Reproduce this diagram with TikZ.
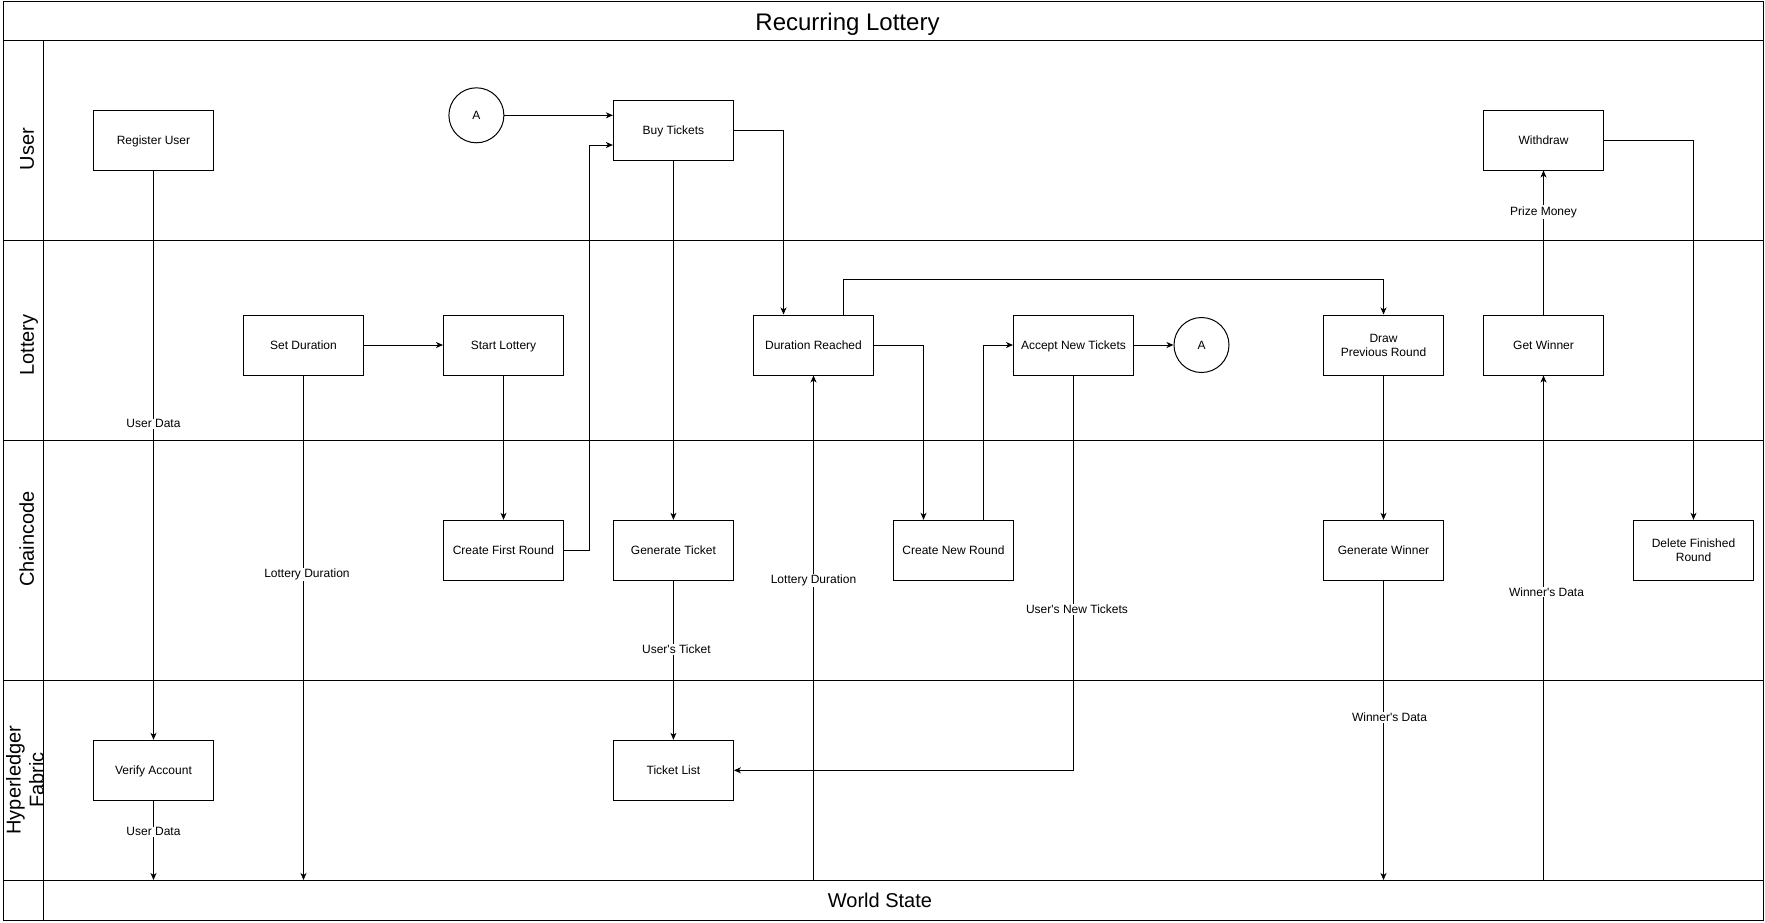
\documentclass[tikz,border=0pt]{standalone}
\usepackage{fontspec}
\setmainfont{Liberation Sans}
\usepackage{tikz}
\usetikzlibrary{positioning,arrows.meta}
\tikzstyle{proc}=[draw, minimum height=60pt, minimum width=120pt, align=center, font=\fontsize{12pt}{14pt}\selectfont]
\tikzstyle{proc1}=[proc, text height=8.6pt, text depth=0pt]
\tikzstyle{conn}=[draw, circle, minimum size=55pt, inner sep=0pt, font=\fontsize{12pt}{14pt}\selectfont]
\tikzstyle{lbl}=[fill=white, inner sep=1pt, font=\fontsize{12pt}{14pt}\selectfont]
\tikzstyle{lane}=[rotate=90, align=center, font=\fontsize{20pt}{23pt}\selectfont]

\begin{document}
\begin{tikzpicture}[x=1pt,y=-1pt,line width=1pt,node distance=200pt,>={Stealth[length=7pt,width=6pt,inset=2pt]}]
\useasboundingbox (0,0) rectangle (1765,922);
% pool and lanes
\draw (3,1) rectangle (1763,920);
\foreach \y in {40,240,440,680,880}
  \draw (3,\y) -- (1763,\y);
\draw (43,40) -- (43,920);
\coordinate (wstop) at (43,880);

\node[anchor=base, font=\fontsize{24pt}{28pt}\selectfont] at (847.5,30) (title) {Recurring Lottery};
\node[anchor=base, font=\fontsize{20pt}{24pt}\selectfont] at (880,907) (ws) {World State};
\node[lane, anchor=base] at (34,149) (lnuser) {User};
\node[lane, anchor=base] at (34,345) (lnlot) {Lottery};
\node[lane, anchor=base] at (34,539) (lnchain) {Chaincode};
\node[lane] at (25,780) (lnfab) {Hyperledger\\Fabric};

\node[proc1] at (153.5,140) (reg) {Register User};
\node[proc1, below of = reg, node distance = 630.3pt] (verify) {Verify Account};
\node[proc1] at (303.5,345) (setdur) {Set Duration};
\node[proc1, right of = setdur] (start) {Start Lottery};
\node[proc1, below of = start, node distance = 205.3pt] (first) {Create First Round};
\node[conn] at (476.4,115.3) (conA) {A};
\node[proc1] at (673.4,130) (buy) {Buy Tickets};
\node[proc1, below of = buy, node distance = 420.3pt] (gen) {Generate Ticket};
\node[proc1, below of = gen, node distance = 220pt] (tlist) {Ticket List};
\node[proc1, right of = start, node distance = 310pt] (durr) {Duration Reached};
\node[proc1, right of = first, node distance = 450pt] (newr) {Create New Round};
\node[proc1, right of = durr, node distance = 260pt] (accept) {Accept New Tickets};
\node[conn, right of = accept, node distance = 128pt] (conA2) {A};
\node[proc, right of = accept, node distance = 310pt] (drawr) {Draw\\Previous Round};
\node[proc1, below of = drawr, node distance = 205.3pt] (genw) {Generate Winner};
\node[proc1, right of = drawr, node distance = 160pt] (getw) {Get Winner};
\node[proc1, above of = getw, node distance = 205pt] (withdraw) {Withdraw};
\node[proc, right of = genw, node distance = 310pt] (delr) {Delete Finished\\Round};

\draw[->] (reg) -- node[lbl, pos=0.445] (ud1) {User Data} (verify);
\draw[->] (verify) -- node[lbl, pos=0.39] (ud2) {User Data} (verify |- wstop);
\draw[->] (setdur) -- node[lbl, pos=0.395, xshift=3.5pt] (ld1) {Lottery Duration} (setdur |- wstop);
\draw[->] (setdur) -- (start);
\draw[->] (start) -- (first);
\draw[->] (first.east) -- ++(25,0) |- ([yshift=-15pt]buy.west);
\draw[->] (conA) -- (conA -| buy.west);
\draw[->] (buy) -| ([xshift=-30pt]durr.north);
\draw[->] (buy) -- (gen);
\draw[->] (gen) -- node[lbl, pos=0.43, xshift=3pt] (ut) {User\textquotesingle s Ticket} (tlist);
\draw[->] (durr |- wstop) -- node[lbl, pos=0.593] (ld2) {Lottery Duration} (durr);
\draw[->] ([xshift=30pt]durr.north) -- ++(0,-35) -| (drawr);
\draw[->] (durr) -| ([xshift=-30pt]newr.north);
\draw[->] ([xshift=30pt]newr.north) |- (accept);
\draw[->] (accept) -- (conA2);
\draw[->] (accept) |- node[lbl, pos=0.296, xshift=3.5pt] (unt) {User\textquotesingle s New Tickets} (tlist);
\draw[->] (drawr) -- (genw);
\draw[->] (genw) -- node[lbl, pos=0.457, xshift=6pt] (wd1) {Winner\textquotesingle s Data} (genw |- wstop);
\draw[->] (getw |- wstop) -- node[lbl, pos=0.571, xshift=3pt] (wd2) {Winner\textquotesingle s Data} (getw);
\draw[->] (getw) -- node[lbl, pos=0.712] (pm) {Prize Money} (withdraw);
\draw[->] (withdraw) -| (delr);
\end{tikzpicture}
\end{document}
